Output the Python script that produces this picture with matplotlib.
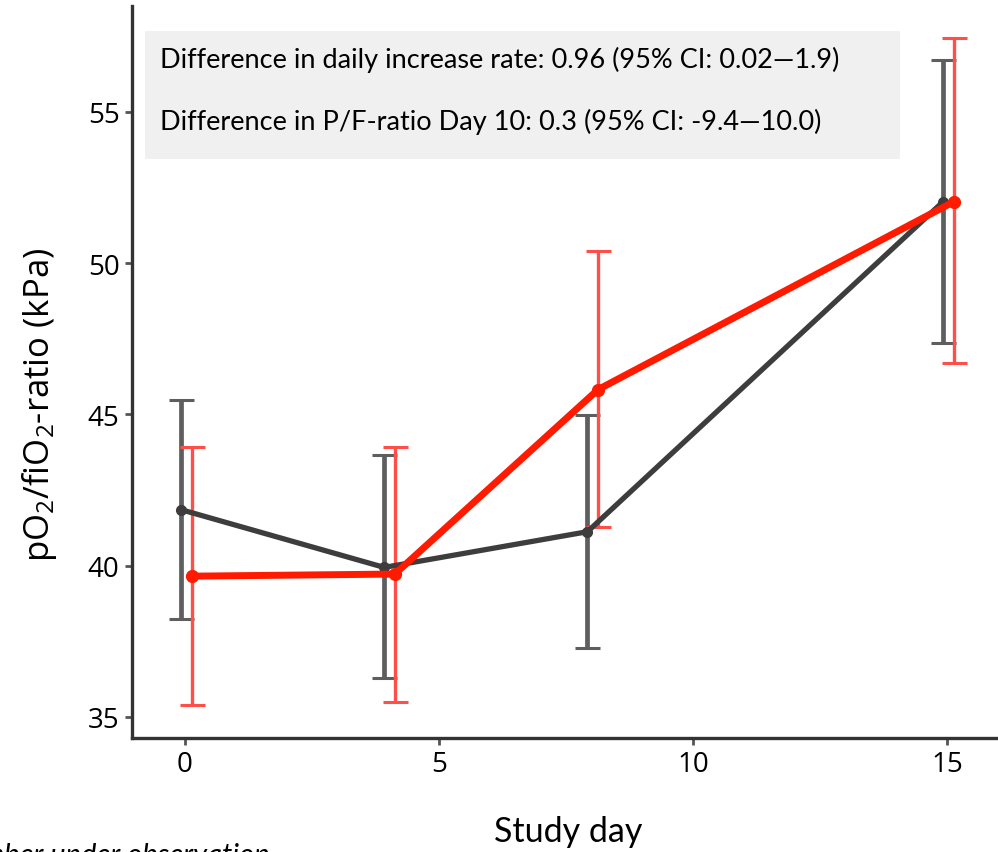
import matplotlib.pyplot as plt
from matplotlib.patches import Rectangle

plt.rcParams['font.family'] = ['Lato', 'DejaVu Sans']
plt.rcParams['mathtext.default'] = 'regular'

days = [0, 4, 8, 15]

# control group (grey)
ctrl_mean = [41.85, 39.94, 41.12, 52.03]
ctrl_low = [38.23, 36.30, 37.26, 47.37]
ctrl_high = [45.46, 43.67, 44.99, 56.71]

# treatment group (red)
trt_mean = [39.65, 39.72, 45.82, 52.03]
trt_low = [35.39, 35.48, 41.27, 46.69]
trt_high = [43.91, 43.91, 50.39, 57.43]

xticks = [0, 5, 10, 15]
yticks = [35, 40, 45, 50, 55]

note1 = 'Difference in daily increase rate: 0.96 (95% CI: 0.02\u20141.9)'
note2 = 'Difference in P/F-ratio Day 10: 0.3 (95% CI: -9.4\u201410.0)'

W, H = 998, 853
fig = plt.figure(figsize=(W / 100, H / 100), dpi=100)
ax = fig.add_axes([132 / W, (H - 739) / H, (W - 132) / W, (739 - 7) / H])

xc = [d - 0.08 for d in days]
xr = [d + 0.13 for d in days]

ax.errorbar(xc, ctrl_mean,
            yerr=[[m - l for m, l in zip(ctrl_mean, ctrl_low)],
                  [h - m for m, h in zip(ctrl_mean, ctrl_high)]],
            fmt='none', ecolor='#5e5e5e', elinewidth=3.4, capsize=9, capthick=2.2, zorder=2)
ax.errorbar(xr, trt_mean,
            yerr=[[m - l for m, l in zip(trt_mean, trt_low)],
                  [h - m for m, h in zip(trt_mean, trt_high)]],
            fmt='none', ecolor='#ff4f48', elinewidth=2.4, capsize=9, capthick=2.2, zorder=3)
ax.plot(xc, ctrl_mean, color='#3d3d3d', linewidth=3.8, marker='o', markersize=7, zorder=4)
ax.plot(xr, trt_mean, color='#ff1a00', linewidth=5, marker='o', markersize=8.5, zorder=5)

ax.set_xlim(-1.043, 16.0)
ax.set_ylim(34.3, 58.5)
ax.set_xticks(xticks)
ax.set_yticks(yticks)
ax.set_xticklabels([str(t) for t in xticks], fontsize=20, family='Open Sans')
ax.set_yticklabels([str(t) for t in yticks], fontsize=20, family='Open Sans')
for s in ['top', 'right']:
    ax.spines[s].set_visible(False)
for s in ['left', 'bottom']:
    ax.spines[s].set_color('#333333')
    ax.spines[s].set_linewidth(2.4)
ax.tick_params(length=5, width=2, color='#555555', pad=4)

fig.text(40 / W, 1 - 405 / H, r'pO$_2$/fiO$_2$-ratio (kPa)', rotation=90,
         ha='center', va='center', fontsize=25, family='Open Sans')
fig.text(568 / W, 1 - 842 / H, 'Study day', ha='center', va='baseline', fontsize=24.5)
fig.text(270 / W, 1 - 864 / H, 'Time: number under observation', ha='right',
         va='baseline', fontsize=21, style='italic')

fig.patches.append(Rectangle((145 / W, 1 - 160 / H), (900 - 145) / W, (160 - 32) / H,
                             transform=fig.transFigure, facecolor='#f0f0f0',
                             edgecolor='none', zorder=0))
fig.text(160 / W, 1 - 60 / H, note1, ha='left', va='center', fontsize=19.5)
fig.text(160 / W, 1 - 122 / H, note2, ha='left', va='center', fontsize=19.5)

fig.savefig('out.png', dpi=100)
